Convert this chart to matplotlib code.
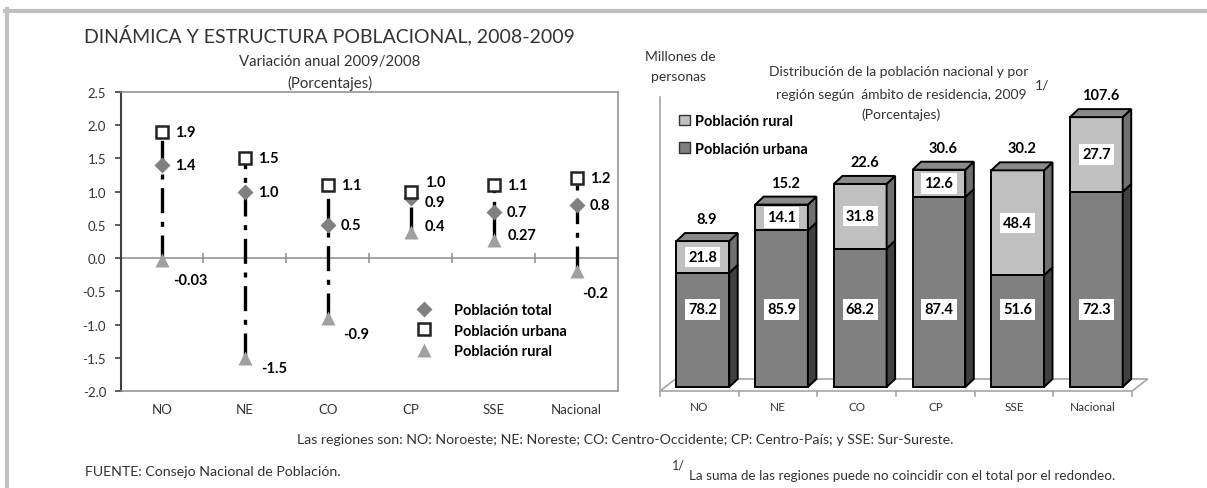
import matplotlib
matplotlib.use('Agg')
import matplotlib.pyplot as plt
from matplotlib.patches import Polygon, Patch
from matplotlib.lines import Line2D
import numpy as np

plt.rcParams['font.family'] = ['Lato', 'DejaVu Sans']

W, H = 1207, 489

# datos
regiones = ['NO', 'NE', 'CO', 'CP', 'SSE', 'Nacional']
var_total = [1.4, 1.0, 0.5, 0.9, 0.7, 0.8]
var_urbana = [1.9, 1.5, 1.1, 1.0, 1.1, 1.2]
var_rural = [-0.03, -1.5, -0.9, 0.4, 0.27, -0.2]
y_ticks = [-2.0, -1.5, -1.0, -0.5, 0.0, 0.5, 1.0, 1.5, 2.0, 2.5]

pob_total = [8.9, 15.2, 22.6, 30.6, 30.2, 107.6]   # millones de personas
pct_urbana = [78.2, 85.9, 68.2, 87.4, 51.6, 72.3]
pct_rural = [21.8, 14.1, 31.8, 12.6, 48.4, 27.7]

TXT = '#333333'


def box(left, top, right, bottom):
    return [left / W, 1 - bottom / H, (right - left) / W, (bottom - top) / H]


def fx(x):
    return x / W


def fy(y):
    return 1 - y / H


fig = plt.figure(figsize=(W / 100, H / 100), dpi=100)

# marco gris
fig.add_artist(Line2D([fx(5), fx(W)], [fy(12), fy(12)], color='#c0c0c0', lw=3))
fig.add_artist(Line2D([fx(7), fx(7)], [fy(10), fy(H)], color='#c0c0c0', lw=3))

# ---------------- grafica izquierda ----------------
ax = fig.add_axes(box(120.6, 93, 618, 392))
x = np.arange(len(regiones))
ax.set_xlim(-0.5, 5.5)
ax.set_ylim(-2.0, 2.5)

ax.vlines(x, var_rural, var_urbana, colors='black', lw=2.4,
          linestyles=(0, (7.5, 2.6, 1.5, 2.6)), zorder=2)
h_rur, = ax.plot(x, var_rural, ls='none', marker='^', ms=10, color='#a0a0a0',
                 mec='none', zorder=3, label='Población rural')
h_tot, = ax.plot(x, var_total, ls='none', marker='D', ms=8.5, color='#808080',
                 mec='none', zorder=4, label='Población total')
h_urb, = ax.plot(x, var_urbana, ls='none', marker='s', ms=8.5, mfc='white',
                 mec='#222222', mew=1.8, zorder=5, label='Población urbana')

off_urb = [(13, 0), (13, 0), (13, 0), (14, 10), (13, 0), (13, 0)]
off_tot = [(13, 0), (13, 0), (13, 0), (14, -4), (13, 0), (13, 0)]
off_rur = [(11, -20), (16, -10), (15, -16), (14, 6), (14, 5), (6, -22)]
for i in x:
    for vals, offs in ((var_urbana, off_urb), (var_total, off_tot), (var_rural, off_rur)):
        ax.annotate(str(vals[i]), (i, vals[i]), xytext=offs[i], textcoords='offset pixels',
                    ha='left', va='center', fontsize=10.5, fontweight='bold', color='black')

ax.legend(handles=[h_tot, h_urb, h_rur], loc='upper left',
          bbox_to_anchor=(fx(417), fy(304)), bbox_transform=fig.transFigure,
          frameon=False, prop={'size': 10.5, 'weight': 'bold'}, handlelength=1.0,
          handletextpad=1.55, labelspacing=0.45, borderpad=0, borderaxespad=0)

ax.set_yticks(y_ticks)
ax.set_yticklabels([f'{v:.1f}' for v in y_ticks])
ax.tick_params(axis='y', length=4.5, width=1.2, color='#404040', pad=6,
               labelsize=9.5, labelcolor=TXT)
ax.set_xticks(x, regiones)
ax.tick_params(axis='x', length=0, pad=9, labelsize=9.5, labelcolor=TXT)
for s in ['top', 'right', 'bottom']:
    ax.spines[s].set_color('#8c8c8c')
    ax.spines[s].set_linewidth(1.1)
ax.spines['left'].set_color('#404040')
ax.spines['left'].set_linewidth(1.5)

sec = ax.secondary_xaxis(2.0 / 4.5)
sec.set_xticks(np.arange(0.5, 5.0, 1.0))
sec.set_xticklabels([])
sec.tick_params(direction='inout', length=7, width=1.1, color='#8c8c8c',
                labeltop=False, labelbottom=False)
for s in sec.spines.values():
    s.set_color('#8c8c8c')
    s.set_linewidth(1.1)

# ---------------- grafica derecha (barras 3D) ----------------
slot, unit = 78.7, 37.9          # pixeles por categoria / por unidad de altura
ax2 = fig.add_axes(box(660, 80, 1150, 400))
ax2.set_xlim(-0.5, -0.5 + 490 / slot)
ax2.set_ylim(-(400 - 388) / unit, (388 - 80) / unit)
for s in ax2.spines.values():
    s.set_visible(False)
ax2.set_yticks([])
ax2.set_xticks(x, regiones)
ax2.tick_params(axis='x', length=0, pad=1.5, labelsize=8.5, labelcolor=TXT)

# piso y pared
yf, yb = -4 / unit, 8 / unit
fdx = 15.5 / slot
gris = '#a6a6a6'
ax2.plot([-0.5, 5.5, 5.5 + fdx, -0.5 + fdx, -0.5], [yf, yf, yb, yb, yf],
         color=gris, lw=1.2, clip_on=False, zorder=1)
ax2.plot([-0.5, -0.5], [yf, 290 / unit], color=gris, lw=1.2, clip_on=False, zorder=1)
for t in np.arange(-0.5, 5.6, 1.0):
    ax2.plot([t, t], [yf, yf - 5 / unit], color=gris, lw=1.2, clip_on=False, zorder=1)

# altura aparente de cada barra segun la poblacion total
alt = np.log(np.array(pob_total) - 5.0) + 2.49
bw, shift = 0.67, 3.5 / slot
ddx, ddy = 8.5 / slot, 8 / unit
URB_LABEL_Y = 2.05

for i in x:
    xc = i + shift
    hu = alt[i] * pct_urbana[i] / 100
    hr = alt[i] * pct_rural[i] / 100
    xl, xr = xc - bw / 2, xc + bw / 2
    for b, h, fc, sc in ((0, hu, '#808080', '#404040'), (hu, hr, '#c0c0c0', '#707070')):
        ax2.bar(xc, h, bottom=b, width=bw, color=fc, edgecolor='black', lw=1.4, zorder=3)
        ax2.add_patch(Polygon([(xr, b), (xr + ddx, b + ddy), (xr + ddx, b + h + ddy), (xr, b + h)],
                              closed=True, fc=sc, ec='black', lw=1.4, zorder=3))
    top = alt[i]
    ax2.add_patch(Polygon([(xl, top), (xl + ddx, top + ddy), (xr + ddx, top + ddy), (xr, top)],
                          closed=True, fc='#8a8a8a', ec='black', lw=1.4, zorder=3))

    lab = dict(ha='center', va='center', fontsize=10.5, fontweight='bold', color='black', zorder=5,
               bbox=dict(boxstyle='square,pad=0.22', fc='white', ec='none'))
    ax2.text(xc, hu + hr / 2, f'{pct_rural[i]:.1f}', **lab)
    ax2.text(xc, URB_LABEL_Y, f'{pct_urbana[i]:.1f}', **lab)
    ax2.annotate(f'{pob_total[i]:.1f}', (xc + ddx / 2, top + ddy), xytext=(0, 14),
                 textcoords='offset pixels', ha='center', va='center', fontsize=10.5,
                 fontweight='bold', color='black', annotation_clip=False)

ax2.legend(handles=[Patch(fc='#c0c0c0', ec='#333333', label='Población rural'),
                    Patch(fc='#808080', ec='#333333', label='Población urbana')],
           loc='upper left', bbox_to_anchor=(fx(679), fy(115)), bbox_transform=fig.transFigure,
           frameon=False, prop={'size': 10.5, 'weight': 'bold'}, handlelength=0.75,
           handleheight=0.75, handletextpad=0.35, labelspacing=0.95, borderpad=0,
           borderaxespad=0)

# ---------------- textos ----------------
fig.text(fx(84), fy(35), 'DINÁMICA Y ESTRUCTURA POBLACIONAL, 2008-2009', ha='left', va='center',
         fontsize=14.0, color=TXT)
fig.text(fx(330), fy(62), 'Variación anual 2009/2008', ha='center', va='center', fontsize=10.8, color=TXT)
fig.text(fx(330), fy(83), '(Porcentajes)', ha='center', va='center', fontsize=10.8, color=TXT)

fig.text(fx(680), fy(57), 'Millones de', ha='center', va='center', fontsize=10, color=TXT)
fig.text(fx(678), fy(77), 'personas', ha='center', va='center', fontsize=10, color=TXT)
fig.text(fx(899), fy(72), 'Distribución de la población nacional y por', ha='center', va='center',
         fontsize=10, color=TXT)
fig.text(fx(901), fy(95), 'región según  ámbito de residencia, 2009', ha='center', va='center',
         fontsize=10, color=TXT)
fig.text(fx(901), fy(115), '(Porcentajes)', ha='center', va='center', fontsize=10, color=TXT)
fig.text(fx(1035), fy(86), '1/', ha='left', va='center', fontsize=10, color=TXT)

fig.text(fx(625), fy(440), 'Las regiones son: NO: Noroeste; NE: Noreste; CO: Centro-Occidente; '
         'CP: Centro-País; y SSE: Sur-Sureste.', ha='center', va='center', fontsize=10.2, color=TXT)
fig.text(fx(85), fy(472), 'FUENTE: Consejo Nacional de Población.', ha='left', va='center',
         fontsize=10.2, color=TXT)
fig.text(fx(672), fy(466), '1/', ha='left', va='center', fontsize=9, color=TXT)
fig.text(fx(689), fy(476), 'La suma de las regiones puede no coincidir con el total por el redondeo.',
         ha='left', va='center', fontsize=9.7, color=TXT)

fig.savefig('out.png', dpi=100)
